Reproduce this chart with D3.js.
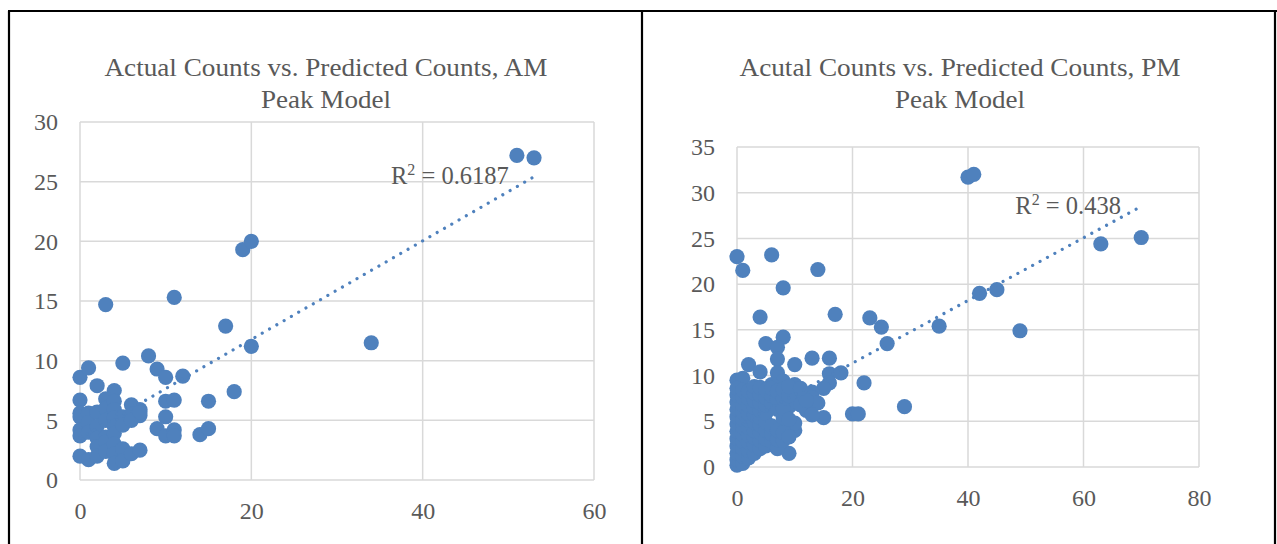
<!DOCTYPE html>
<html>
<head>
<meta charset="utf-8">
<script src="https://cdn.jsdelivr.net/npm/d3@7"></script>
<style>
  html, body { margin: 0; padding: 0; background: #fff; }
  svg { display: block; }
  text { font-family: "Liberation Serif", "DejaVu Serif", serif; fill: #595959; }
</style>
</head>
<body>
<svg id="chart" width="1277" height="544"></svg>
<script>
// ---------------- DATA ----------------
// AM peak model: [actual count, predicted count]
const amPoints = [
  [0,8.6],[1,9.4],[2,7.9],[3,14.7],[4,7.5],[5,9.8],[8,10.4],[9,9.3],[10,8.6],[11,15.3],
  [12,8.7],[17,12.9],[18,7.4],[19,19.3],[20,20.0],[20,11.2],[34,11.5],[51,27.2],[53,27.0],
  [0,6.7],[3,6.8],[6,6.3],[7,5.9],[7,5.4],[10,6.6],[11,6.7],[15,6.6],[10,5.3],[9,4.3],
  [10,3.7],[11,4.2],[11,3.7],[14,3.8],[15,4.3],
  [0,5.6],[0,5.3],[0,4.2],[0,3.7],[0,2.0],[1,1.7],[1,5.6],[1,4.8],[1,4.0],[2,5.7],
  [2,4.5],[2,3.5],[2,2.8],[2,2.0],[3,6.0],[3,5.0],[3,3.6],[3,3.2],[3,2.4],[4,6.6],
  [4,5.9],[4,5.2],[4,4.5],[4,3.9],[4,3.0],[4,2.2],[4,1.4],[5,5.3],[5,4.6],[5,2.6],
  [5,1.6],[6,5.5],[6,5.0],[6,2.2],[7,5.7],[7,2.5]
];
// PM peak model: [actual count, predicted count]
const pmPoints = [
  [0,23.0],[1,21.5],[6,23.2],[14,21.6],[8,19.6],[4,16.4],[17,16.7],[23,16.3],[25,15.3],
  [26,13.5],[35,15.4],[40,31.7],[41,32.0],[42,19.0],[45,19.4],[49,14.9],[63,24.4],[70,25.1],
  [29,6.6],[22,9.2],[20,5.8],[21,5.8],[15,5.4],[9,1.5],
  [8,14.2],[5,13.5],[7,13.1],[7,11.8],[2,11.2],[10,11.2],[13,11.9],[16,11.9],[16,10.2],
  [18,10.3],[16,9.2],[15,8.6],[13,8.2],[13,7.6],[14,7.0],[12,6.2],[13,5.7],[4,10.4],
  [0,9.5],[1,9.7],[7,10.3],[10,9.0],[10,8.2],[11,7.6],[10,4.0],[10,4.8],[8,4.4],[9,6.6],
  [8,9.4],[6,9.0],
  [0,0.2],[0,0.8],[0,1.5],[0,2.3],[0,3.1],[0,3.9],[0,4.7],[0,5.5],[0,6.3],[0,7.1],[0,7.9],[0,8.6],
  [1,0.4],[1,1.2],[1,2.0],[1,2.8],[1,3.6],[1,4.4],[1,5.2],[1,6.0],[1,6.8],[1,7.6],[1,8.4],
  [2,1.0],[2,1.8],[2,2.7],[2,3.5],[2,4.3],[2,5.1],[2,5.9],[2,6.7],[2,7.5],[2,8.3],
  [3,1.5],[3,2.4],[3,3.2],[3,4.0],[3,4.9],[3,5.7],[3,6.5],[3,7.3],[3,8.1],[3,8.8],
  [4,2.0],[4,2.9],[4,3.8],[4,4.6],[4,5.4],[4,6.2],[4,7.0],[4,7.9],[4,8.7],
  [5,2.3],[5,3.1],[5,4.0],[5,4.9],[5,5.9],[5,6.8],[5,7.6],[5,8.4],
  [6,2.8],[6,3.6],[6,4.5],[6,7.0],[6,7.8],[6,8.6],
  [7,2.0],[7,3.0],[7,4.0],[7,6.3],[7,7.4],[7,8.3],
  [8,2.9],[8,3.8],[8,5.4],[8,6.4],[8,7.5],[8,8.5],
  [9,3.3],[9,5.2],[9,7.8],[11,6.8],[12,7.3],[9,8.8],[11,8.6]
];
// Linear trendline endpoints
const amTrend = [[0,3.52],[53,25.41]];
const pmTrend = [[0,4.5],[70,28.5]];
// Titles, R² labels and axis ticks
const amTitle = ["Actual Counts vs. Predicted Counts, AM", "Peak Model"];
const pmTitle = ["Acutal Counts vs. Predicted Counts, PM", "Peak Model"];
const amR2 = "0.6187";
const pmR2 = "0.438";
const amXTicks = [0,20,40,60];
const amYTicks = [0,5,10,15,20,25,30];
const pmXTicks = [0,20,40,60,80];
const pmYTicks = [0,5,10,15,20,25,30,35];

// ---------------- DRAW ----------------
const svg = d3.select("#chart");
const BLUE = "#4F81BD";
const GRID = "#D9D9D9";

// table borders
const borders = [[8,11,1277,11],[9,11,9,544],[642,11,642,544],[1275,11,1275,544]];
svg.selectAll("line.border").data(borders).join("line")
  .attr("class","border")
  .attr("x1",d=>d[0]).attr("y1",d=>d[1]).attr("x2",d=>d[2]).attr("y2",d=>d[3])
  .attr("stroke","#000").attr("stroke-width",2.2);

function drawChart(cfg) {
  const g = svg.append("g");
  const x = d3.scaleLinear().domain([0, d3.max(cfg.xTicks)]).range([cfg.left, cfg.right]);
  const y = d3.scaleLinear().domain([0, d3.max(cfg.yTicks)]).range([cfg.bottom, cfg.top]);

  // gridlines
  g.append("g").selectAll("line").data(cfg.yTicks).join("line")
    .attr("x1", cfg.left).attr("x2", cfg.right)
    .attr("y1", d=>y(d)).attr("y2", d=>y(d))
    .attr("stroke", GRID).attr("stroke-width", 1.5);
  g.append("g").selectAll("line").data(cfg.xTicks).join("line")
    .attr("y1", cfg.top).attr("y2", cfg.bottom)
    .attr("x1", d=>x(d)).attr("x2", d=>x(d))
    .attr("stroke", GRID).attr("stroke-width", 1.5);

  // axes (labels only)
  const xAxis = g.append("g").attr("transform", `translate(0,${cfg.bottom})`)
    .call(d3.axisBottom(x).tickValues(cfg.xTicks).tickSize(0).tickPadding(cfg.xPad).tickFormat(d3.format("d")));
  const yAxis = g.append("g").attr("transform", `translate(${cfg.left},0)`)
    .call(d3.axisLeft(y).tickValues(cfg.yTicks).tickSize(0).tickPadding(cfg.yPad).tickFormat(d3.format("d")));
  [xAxis, yAxis].forEach(a => {
    a.select(".domain").remove();
    a.selectAll("text").attr("font-family", null).attr("font-size", 24).attr("fill", "#595959")
      .style("font-family", '"Liberation Serif", serif');
  });

  // points
  g.append("g").selectAll("circle").data(cfg.points).join("circle")
    .attr("cx", d=>x(d[0])).attr("cy", d=>y(d[1])).attr("r", 7.6)
    .attr("fill", BLUE);

  // trendline
  g.append("path").datum(cfg.trend)
    .attr("d", d3.line().x(d=>x(d[0])).y(d=>y(d[1])))
    .attr("fill","none").attr("stroke", BLUE).attr("stroke-width", 3.2)
    .attr("stroke-linecap","round").attr("stroke-dasharray","0.01 8.4");

  // R² label
  const r = g.append("text").attr("x", x(cfg.r2At[0])).attr("y", y(cfg.r2At[1]))
    .attr("font-size", 24.5);
  r.append("tspan").text("R");
  r.append("tspan").attr("dy", -9).attr("font-size", 16).text("2");
  r.append("tspan").attr("dy", 9).text(" = " + cfg.r2);

  // title
  const t = g.append("text").attr("text-anchor","middle").attr("font-size", 26);
  cfg.title.forEach((line, i) => {
    t.append("tspan").attr("x", cfg.titleX).attr("y", 76 + i*31.5)
      .attr("textLength", cfg.titleW[i]).attr("lengthAdjust", "spacingAndGlyphs")
      .text(line);
  });
}

drawChart({
  points: amPoints, trend: amTrend, title: amTitle, r2: amR2,
  xTicks: amXTicks, yTicks: amYTicks,
  left: 80, right: 594, top: 122, bottom: 480,
  xPad: 22, yPad: 22, titleX: 326, titleW: [443, 130], r2At: [36.3, 24.8]
});
drawChart({
  points: pmPoints, trend: pmTrend, title: pmTitle, r2: pmR2,
  xTicks: pmXTicks, yTicks: pmYTicks,
  left: 737, right: 1199, top: 147, bottom: 467,
  xPad: 22, yPad: 22, titleX: 960, titleW: [441, 130], r2At: [48.2, 27.7]
});
</script>
</body>
</html>
